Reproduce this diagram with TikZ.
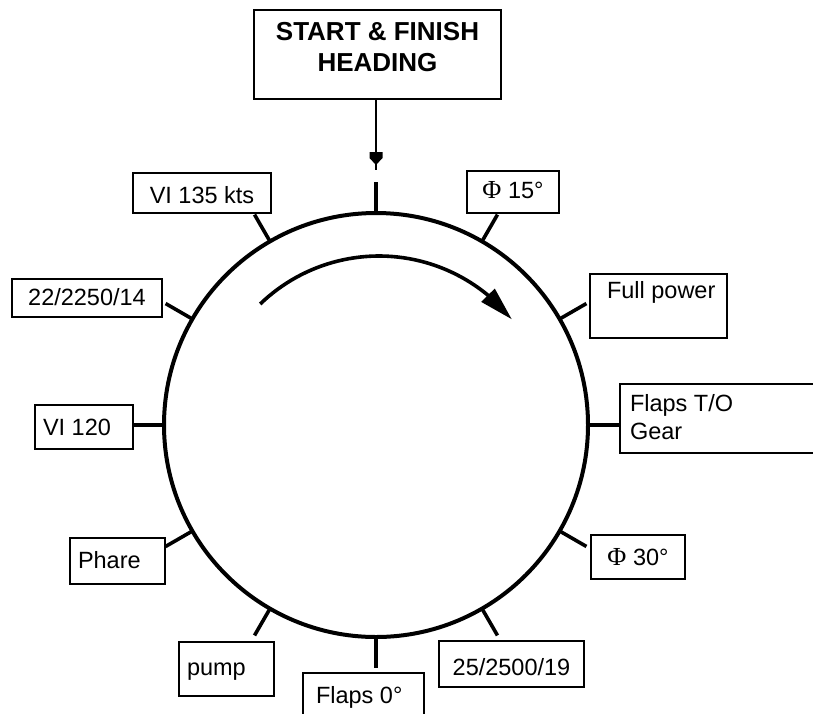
\documentclass[tikz,border=0pt]{standalone}
\usepackage{fontspec}
\setmainfont{Liberation Sans}
\newfontfamily\phifont{Liberation Serif}
\usetikzlibrary{calc,arrows.meta,bending}
\begin{document}
\begin{tikzpicture}[x=1pt,y=-1pt,
  lbox/.style={draw, line width=1.9pt, inner sep=0pt, outer sep=0pt, anchor=north west,
     font=\fontsize{23.5}{28}\selectfont},
  tickline/.style={line width=3.6pt},
  ringline/.style={line width=4pt},
  turnarrow/.style={line width=3.6pt, -{Triangle[length=34pt,width=18pt,flex]}},
  leadline/.style={line width=1.7pt}
]
\useasboundingbox (0,0) rectangle (813,713);
\clip (0,0) rectangle (813,713);

% dial
\node[circle, draw, ringline, minimum size=424pt, inner sep=0pt, outer sep=0pt] (dial) at (376,425) {};

% boxes
\node[lbox, text height=61pt, text depth=28pt, font=\bfseries\fontsize{26}{31}\selectfont] (head) at (254,10)
  {\makebox[247pt][c]{\begin{tabular}[b]{@{}c@{}}START \& FINISH\\HEADING\end{tabular}}};
\node[lbox, text height=30pt, text depth=10pt] (vi135) at (133,173) {\makebox[138pt][c]{VI 135 kts}};
\node[lbox, text height=26pt, text depth=12pt] (v22) at (12,279) {\makebox[150pt][c]{22/2250/14}};
\node[lbox, text height=30pt, text depth=14pt] (vi120) at (35,405) {\makebox[98pt][l]{\hspace*{8pt}VI 120}};
\node[lbox, text height=30pt, text depth=16pt] (phare) at (70,538) {\makebox[95pt][l]{\hspace*{8pt}Phare}};
\node[lbox, text height=33pt, text depth=21pt] (pump) at (179,642) {\makebox[95pt][l]{\hspace*{8pt}pump}};
\node[lbox, text height=30pt, text depth=30pt] (flaps0) at (303,673) {\makebox[121pt][l]{\hspace*{13pt}Flaps 0°}};
\node[lbox, text height=34pt, text depth=12pt] (v25) at (439,641) {\makebox[145pt][c]{25/2500/19}};
\node[lbox, text height=30pt, text depth=14pt] (phi30) at (591,535) {\makebox[94pt][c]{{\phifont\fontsize{26}{28}\selectfont Φ} 30°}};
\node[lbox, text height=55pt, text depth=14pt] (flapsto) at (620,384)
  {\makebox[210pt][l]{\hspace*{10pt}\begin{tabular}[b]{@{}l@{}}Flaps T/O\\Gear\end{tabular}}};
\node[lbox, text height=24pt, text depth=40pt] (full) at (590,274) {\makebox[137pt][l]{\hspace*{17pt}Full power}};
\node[lbox, text height=27pt, text depth=15pt] (phi15) at (467,171) {\makebox[92pt][c]{{\phifont\fontsize{26}{28}\selectfont Φ} 15°}};

% ticks
\foreach \a/\n in {90/tkA,60/tkB,30/tkC,0/tkD,330/tkE,300/tkF,270/tkG,240/tkH,210/tkI,180/tkJ,150/tkK,120/tkL}{
  \coordinate (\n) at ($(dial.center)!1.146!(dial.\a)$);
  \draw[tickline] (dial.\a) -- (\n);
}

% heading lead with arrow
\coordinate (hdtip) at (376,170);
\draw[leadline] (head.south -| hdtip) -- (hdtip);
\fill (hdtip) ++(-6.5,-18) -- ++(13,0) -- ++(0,6) -- ++(-6.5,7) -- ++(-6.5,-7) -- cycle;

% turning arrow
\coordinate (arcC) at (379,427);
\coordinate (arcS) at ($(arcC)+(-134:171)$);
\draw[turnarrow] (arcS) arc[start angle=-134, end angle=-39, radius=171];
\end{tikzpicture}
\end{document}
